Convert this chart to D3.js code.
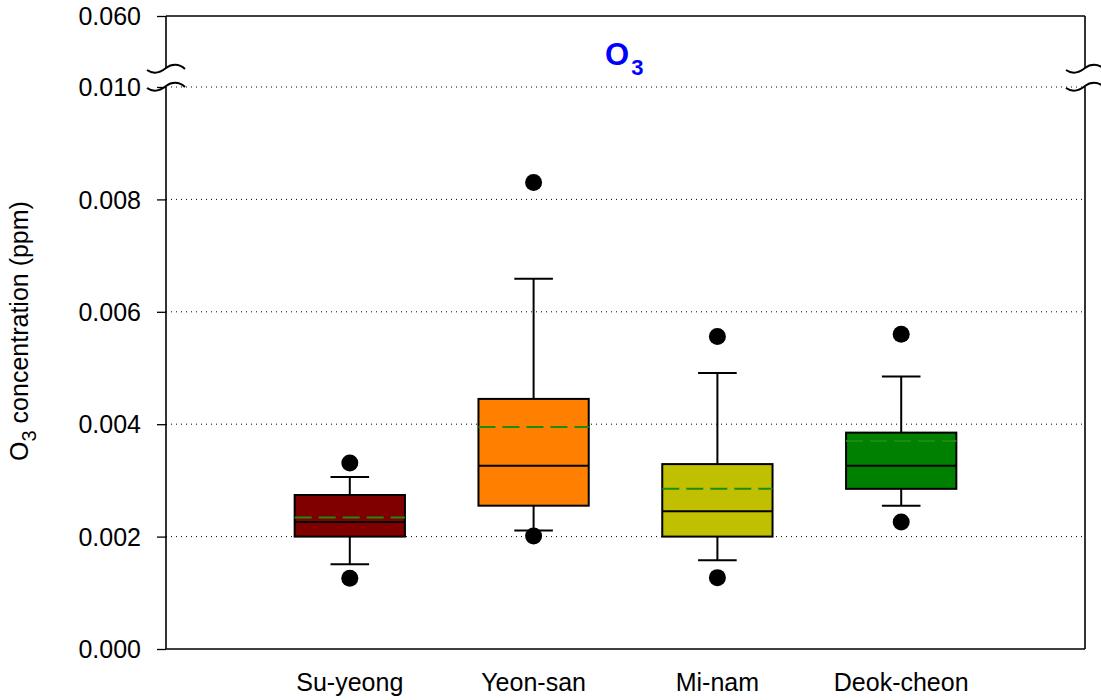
<!DOCTYPE html>
<html><head><meta charset="utf-8">
<script src="https://cdn.jsdelivr.net/npm/d3@7"></script>
<style>body{margin:0;background:#fff}</style>
</head><body>
<svg id="c" width="1101" height="700"></svg>
<script>
const categories = ["Su-yeong","Yeon-san","Mi-nam","Deok-cheon"];
const colors = ["#800000","#ff8000","#c0c000","#008000"];
const q1 = [0.00200,0.00255,0.00200,0.00285];
const median = [0.00226,0.00326,0.00245,0.00326];
const q3 = [0.00274,0.00445,0.00329,0.00385];
const mean = [0.00234,0.00395,0.00285,0.00370];
const whiskerLow = [0.00151,0.00211,0.00158,0.00255];
const whiskerHigh = [0.00306,0.00659,0.00491,0.00485];
const outliers = [[0.00331,0.00126],[0.00830,0.00201],[0.00556,0.00127],[0.00560,0.00226]];
const yTicks = [0,0.002,0.004,0.006,0.008,0.010,0.060];

const FONT = "Arial, 'Liberation Sans', sans-serif";
const svg = d3.select("#c");
const L=166,R=1085,T=16,B=649;
const x = d3.scaleLinear().domain([0,5]).range([L,R]);
const y = d3.scaleLinear().domain([0,0.010,0.060]).range([B,87,T]);
const boxW = x(0.6)-x(0), capW = x(0.21)-x(0);

// gridlines
svg.append("g").selectAll("line").data(yTicks.filter(d=>d>0 && d<0.06)).join("line")
  .attr("x1",L).attr("x2",R).attr("y1",d=>y(d)).attr("y2",d=>y(d))
  .attr("stroke","#000").attr("stroke-width",1).attr("stroke-dasharray","1,4");

// y axis
const ya = svg.append("g").attr("transform",`translate(${L},0)`)
  .call(d3.axisLeft(y).tickValues(yTicks).tickFormat(d3.format(".3f")).tickSize(9).tickPadding(16).tickSizeOuter(0));
ya.select(".domain").remove();
ya.selectAll("text").attr("font-family",FONT).attr("font-size",25).attr("fill","#000").attr("dy","0.35em");
ya.selectAll("line").attr("stroke","#000").attr("stroke-width",1.3);

// frame with breaks
const fr = svg.append("g").attr("stroke","#000").attr("stroke-width",1.6).attr("fill","none");
fr.append("line").attr("x1",L).attr("x2",R).attr("y1",T).attr("y2",T);
fr.append("line").attr("x1",L).attr("x2",R).attr("y1",B).attr("y2",B);
[L,R].forEach(xx=>{
  fr.append("line").attr("x1",xx).attr("x2",xx).attr("y1",T).attr("y2",68);
  fr.append("line").attr("x1",xx).attr("x2",xx).attr("y1",87).attr("y2",B);
  [68,86].forEach(yy=>{
    fr.append("path").attr("stroke-width",2)
      .attr("d",`M${xx-19},${yy+2} C${xx-12},${yy+7} ${xx-5},${yy+4} ${xx},${yy} C${xx+5},${yy-4} ${xx+13},${yy-5} ${xx+19},${yy+1}`);
  });
});

// boxes
const g = svg.append("g");
categories.forEach((c,i)=>{
  const cx = x(i+1);
  const s = g.append("g");
  s.append("line").attr("x1",cx).attr("x2",cx).attr("y1",y(q3[i])).attr("y2",y(whiskerHigh[i])).attr("stroke","#000").attr("stroke-width",2);
  s.append("line").attr("x1",cx).attr("x2",cx).attr("y1",y(q1[i])).attr("y2",y(whiskerLow[i])).attr("stroke","#000").attr("stroke-width",2);
  [whiskerHigh[i],whiskerLow[i]].forEach(v=>{
    s.append("line").attr("x1",cx-capW/2).attr("x2",cx+capW/2).attr("y1",y(v)).attr("y2",y(v)).attr("stroke","#000").attr("stroke-width",2);
  });
  s.append("rect").attr("x",cx-boxW/2).attr("width",boxW).attr("y",y(q3[i])).attr("height",y(q1[i])-y(q3[i]))
    .attr("fill",colors[i]).attr("stroke","#000").attr("stroke-width",2);
  s.append("line").attr("x1",cx-boxW/2).attr("x2",cx+boxW/2).attr("y1",y(median[i])).attr("y2",y(median[i])).attr("stroke","#000").attr("stroke-width",2);
  s.append("line").attr("x1",cx-boxW/2).attr("x2",cx+boxW/2).attr("y1",y(mean[i])).attr("y2",y(mean[i]))
    .attr("stroke","#1f8a10").attr("stroke-width",2).attr("stroke-dasharray","17,7");
  s.selectAll("circle").data(outliers[i]).join("circle").attr("cx",cx).attr("cy",d=>y(d)).attr("r",8.5).attr("fill","#000");
  svg.append("text").attr("x",cx).attr("y",691).attr("text-anchor","middle")
    .attr("font-family",FONT).attr("font-size",25).text(c);
});

// title
const t = svg.append("text").attr("x",605).attr("y",65).attr("text-anchor","start")
  .attr("font-family",FONT).attr("font-weight","bold").attr("fill","#0000ff");
t.append("tspan").attr("font-size",31).text("O");
t.append("tspan").attr("font-size",22).attr("dy",10).attr("dx",2).text("3");

// y label
const yl = svg.append("text").attr("transform","translate(28,331) rotate(-90)").attr("text-anchor","middle")
  .attr("font-family",FONT).attr("font-size",25);
yl.append("tspan").text("O");
yl.append("tspan").attr("font-size",20).attr("dy",8).text("3");
yl.append("tspan").attr("dy",-8).text(" concentration (ppm)");
</script>
</body></html>
